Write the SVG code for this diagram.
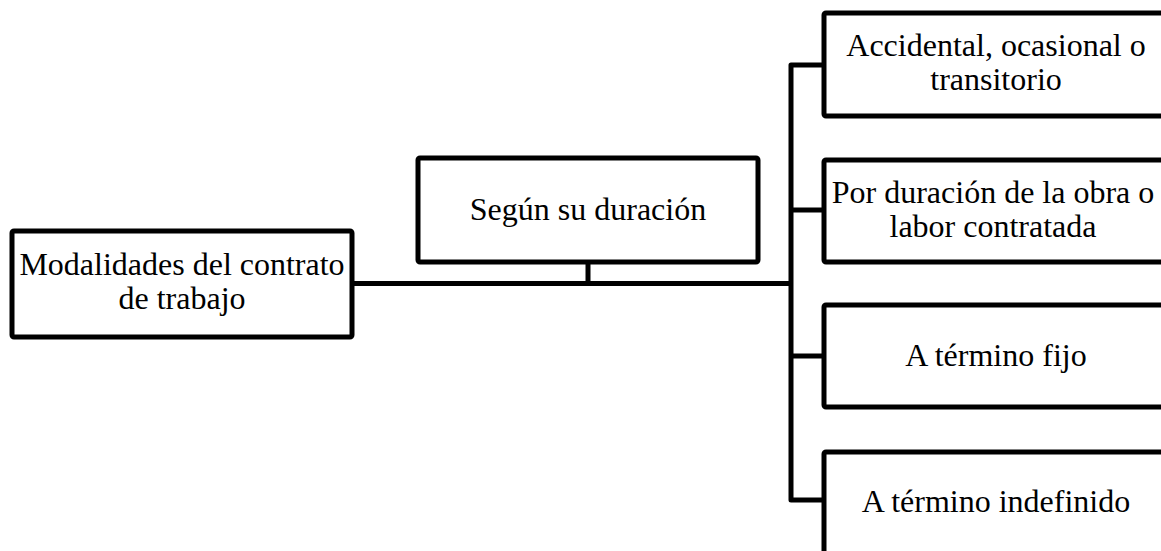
<svg xmlns="http://www.w3.org/2000/svg" width="1161" height="551" viewBox="0 0 1161 551">
<style>
.box{fill:#fff;stroke:#000;stroke-width:5;stroke-linejoin:round}
.lbl{font-family:"Liberation Serif","Times New Roman",serif;font-size:32px;fill:#000;text-anchor:middle}
.con{fill:none;stroke:#000;stroke-width:5;stroke-linejoin:round}
</style>
<rect width="1161" height="551" fill="#fff"/>
<g id="connectors">
<path class="con" d="M352 283.5 H791"/>
<path class="con" d="M588 262 V283.5"/>
<path class="con" d="M824 65 H791 V500 H824"/>
<path class="con" d="M791 210 H824"/>
<path class="con" d="M791 356 H824"/>
</g>
<g id="root">
<rect class="box" x="12" y="231" width="340" height="106" rx="2"/>
<text class="lbl" x="182" y="275">Modalidades del contrato</text>
<text class="lbl" x="182" y="309">de trabajo</text>
</g>
<g id="duracion">
<rect class="box" x="418" y="158" width="340" height="104" rx="2"/>
<text class="lbl" x="588" y="220">Según su duración</text>
</g>
<g id="accidental">
<rect class="box" x="824" y="13" width="344" height="103" rx="2"/>
<text class="lbl" x="996" y="56">Accidental, ocasional o</text>
<text class="lbl" x="996" y="90">transitorio</text>
</g>
<g id="obra">
<rect class="box" x="824" y="160" width="344" height="102" rx="2"/>
<text class="lbl" x="993" y="203">Por duración de la obra o</text>
<text class="lbl" x="993" y="237">labor contratada</text>
</g>
<g id="fijo">
<rect class="box" x="824" y="305" width="344" height="102" rx="2"/>
<text class="lbl" x="996" y="366">A término fijo</text>
</g>
<g id="indefinido">
<rect class="box" x="824" y="452" width="344" height="104" rx="2"/>
<text class="lbl" x="996" y="512">A término indefinido</text>
</g>
</svg>
